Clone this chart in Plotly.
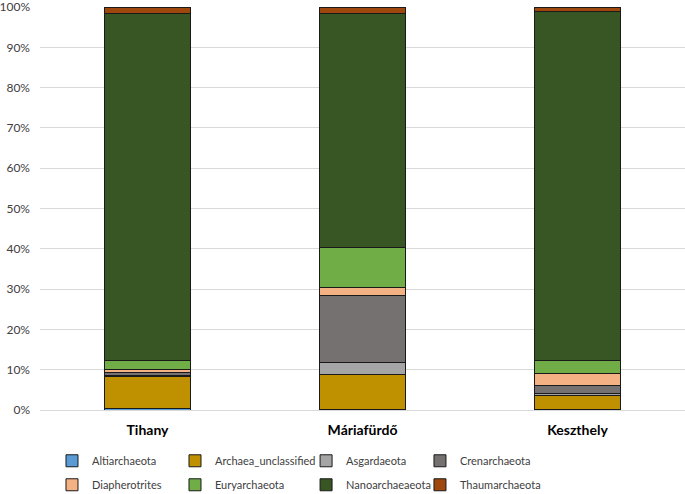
import plotly.graph_objects as go

sites = ["Tihany", "Máriafürdő", "Keszthely"]

altiarchaeota = [0.3, 0.1, 0.1]
archaea_unclassified = [8.1, 8.6, 3.4]
asgardaeota = [0.2, 3.2, 0.5]
crenarchaeota = [0.6, 16.4, 2.0]
diapherotrites = [0.8, 2.0, 3.0]
euryarchaeota = [2.4, 9.9, 3.4]
nanoarchaeaeota = [86.1, 58.3, 86.5]
thaumarchaeota = [1.5, 1.5, 1.1]

# (name, values, colour, legend column)
series = [
    ("Altiarchaeota", altiarchaeota, "#5B9BD5", "legend"),
    ("Archaea_unclassified", archaea_unclassified, "#BF9000", "legend2"),
    ("Asgardaeota", asgardaeota, "#A5A5A5", "legend3"),
    ("Crenarchaeota", crenarchaeota, "#767171", "legend4"),
    ("Diapherotrites", diapherotrites, "#F4B183", "legend"),
    ("Euryarchaeota", euryarchaeota, "#70AD47", "legend2"),
    ("Nanoarchaeaeota", nanoarchaeaeota, "#375623", "legend3"),
    ("Thaumarchaeota", thaumarchaeota, "#9E480E", "legend4"),
]

fig = go.Figure()
for name, vals, col, lg in series:
    fig.add_trace(go.Bar(
        x=sites, y=vals, name=name, legend=lg, legendgroup=name,
        marker=dict(color=col, line=dict(color="#1a1a1a", width=1)),
    ))

font = "Lato, Carlito, 'Liberation Sans', sans-serif"
leg_common = dict(
    orientation="v", xanchor="left", y=-0.09, yanchor="top",
    font=dict(size=11, color="#404040"), traceorder="grouped",
    tracegroupgap=5, bgcolor="rgba(0,0,0,0)",
)
fig.update_layout(
    barmode="stack",
    bargap=0.6,
    width=685, height=494,
    margin=dict(l=40, r=0, t=7, b=84, autoexpand=False),
    plot_bgcolor="white", paper_bgcolor="white",
    font=dict(family=font, size=12, color="#404040"),
    xaxis=dict(
        showgrid=False, showline=True, linecolor="#d9d9d9", linewidth=1,
        tickfont=dict(size=14, color="#000000", family=font, weight="bold"),
        ticks="", ticklabelstandoff=7,
    ),
    yaxis=dict(
        range=[0, 100], tickvals=[0, 10, 20, 30, 40, 50, 60, 70, 80, 90, 100],
        ticktext=["0%", "10%", "20%", "30%", "40%", "50%", "60%", "70%", "80%", "90%", "100%"],
        showgrid=True, gridcolor="#d9d9d9", gridwidth=1,
        zeroline=False, showline=False,
        tickfont=dict(size=12, color="#404040"),
        ticklabelstandoff=9, ticklabeloverflow="allow",
    ),
    legend=dict(x=0.0186, **leg_common),
    legend2=dict(x=0.2093, **leg_common),
    legend3=dict(x=0.4125, **leg_common),
    legend4=dict(x=0.5891, **leg_common),
    showlegend=True,
)

fig.write_html("out.html", config={"displayModeBar": False},
               post_script="document.body.style.margin='0';")
